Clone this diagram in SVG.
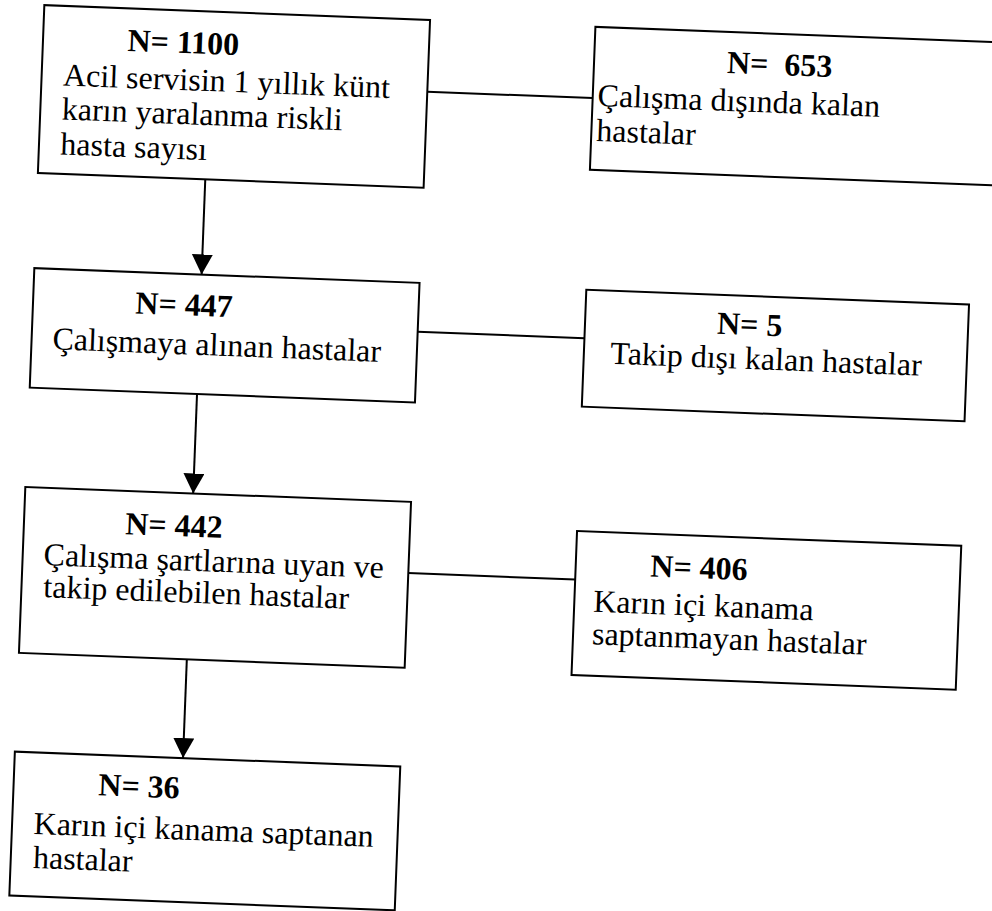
<svg xmlns="http://www.w3.org/2000/svg" width="992" height="911" viewBox="0 0 992 911">
<style>
.box{fill:#fff;stroke:#000;stroke-width:2}
.t{font-family:"Liberation Serif","Times New Roman",serif;font-size:32px;fill:#000}
.b{font-weight:bold}
.c{stroke:#000;stroke-width:2;fill:none}
</style>
<defs>
<marker id="ah" markerUnits="userSpaceOnUse" markerWidth="21" markerHeight="22" refX="20" refY="10.5" orient="auto">
<path d="M0,0 L20,10.5 L0,21 Z" fill="#000"/>
</marker>
</defs>
<rect x="0" y="0" width="992" height="911" fill="#fff"/>
<g transform="rotate(2.2)">
<g id="connectors">
<line class="c" x1="430.5" y1="75.3" x2="596" y2="75.3"/>
<line class="c" x1="430" y1="315.5" x2="597" y2="315.5"/>
<line class="c" x1="430" y1="557" x2="597" y2="557"/>
<line class="c" x1="212" y1="171.5" x2="212" y2="266.5" marker-end="url(#ah)"/>
<line class="c" x1="212" y1="386" x2="212" y2="485.7" marker-end="url(#ah)"/>
<line class="c" x1="212" y1="652" x2="212" y2="750.5" marker-end="url(#ah)"/>
</g>
<g id="n1100">
<rect class="box" x="44.5" y="3.4" width="386" height="168"/>
<text class="t b" x="129" y="46">N= 1100</text>
<text class="t" x="66" y="83">Acil servisin 1 yıllık künt</text>
<text class="t" x="66" y="117">karın yaralanma riskli</text>
<text class="t" x="66" y="152">hasta sayısı</text>
</g>
<g id="n653">
<rect class="box" x="596" y="4" width="430" height="143"/>
<text class="t b" x="729" y="45" xml:space="preserve">N=  653</text>
<text class="t" x="601" y="83">Çalışma dışında kalan</text>
<text class="t" x="601" y="118">hastalar</text>
</g>
<g id="n447">
<rect class="box" x="44.6" y="266.6" width="385.5" height="119.6"/>
<text class="t b" x="147" y="308">N= 447</text>
<text class="t" x="65.5" y="347">Çalışmaya alınan hastalar</text>
</g>
<g id="n5">
<rect class="box" x="597" y="267" width="383" height="117"/>
<text class="t b" x="729" y="306">N= 5</text>
<text class="t" x="623.6" y="340">Takip dışı kalan hastalar</text>
</g>
<g id="n442">
<rect class="box" x="44" y="485.7" width="386" height="166"/>
<text class="t b" x="145.4" y="529">N= 442</text>
<text class="t" x="65" y="563">Çalışma şartlarına uyan ve</text>
<text class="t" x="66" y="595">takip edilebilen hastalar</text>
</g>
<g id="n406">
<rect class="box" x="597" y="508.5" width="384.5" height="144"/>
<text class="t b" x="671.7" y="551">N= 406</text>
<text class="t" x="616" y="588.5">Karın içi kanama</text>
<text class="t" x="616" y="621">saptanmayan hastalar</text>
</g>
<g id="n36">
<rect class="box" x="43.7" y="750.5" width="385.7" height="144"/>
<text class="t b" x="128.5" y="791">N= 36</text>
<text class="t" x="65.3" y="832">Karın içi kanama saptanan</text>
<text class="t" x="66" y="866">hastalar</text>
</g>
</g>
</svg>
